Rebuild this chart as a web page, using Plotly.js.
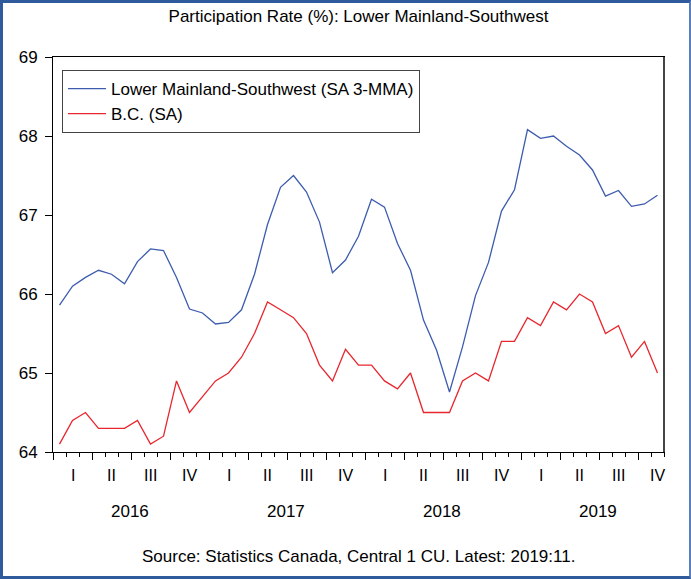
<!DOCTYPE html>
<html>
<head>
<meta charset="utf-8">
<script src="https://cdn.plot.ly/plotly-3.0.1.min.js"></script>
<style>
html,body{margin:0;padding:0;background:#fff;}
#wrap{position:relative;width:691px;height:579px;}
#chart{width:691px;height:579px;}
#frame{position:absolute;left:0;top:0;width:691px;height:579px;box-sizing:border-box;
 border-left:3px solid #2f5a9c;border-top:3px solid #2f5a9c;border-bottom:3px solid #2f5a9c;border-right:2px solid #5b7fba;pointer-events:none;}
</style>
</head>
<body>
<div id="wrap"><div id="chart"></div><div id="frame"></div></div>
<script>
// Monthly, Jan 2016 .. Nov 2019
const startYear = 2016;
const lowerMainland = [
 65.86, 66.10, 66.21, 66.30, 66.25, 66.13, 66.41, 66.57, 66.55, 66.21, 65.81, 65.76,
 65.62, 65.64, 65.80, 66.25, 66.88, 67.35, 67.50, 67.29, 66.91, 66.27, 66.43, 66.73,
 67.20, 67.10, 66.64, 66.30, 65.67, 65.29, 64.76, 65.33, 65.98, 66.40, 67.05, 67.32,
 68.08, 67.97, 68.00, 67.87, 67.76, 67.57, 67.24, 67.31, 67.11, 67.14, 67.25
];
const bc = [
 64.1, 64.4, 64.5, 64.3, 64.3, 64.3, 64.4, 64.1, 64.2, 64.9, 64.5, 64.7,
 64.9, 65.0, 65.2, 65.5, 65.9, 65.8, 65.7, 65.5, 65.1, 64.9, 65.3, 65.1,
 65.1, 64.9, 64.8, 65.0, 64.5, 64.5, 64.5, 64.9, 65.0, 64.9, 65.4, 65.4,
 65.7, 65.6, 65.9, 65.8, 66.0, 65.9, 65.5, 65.6, 65.2, 65.4, 65.0
];
const seriesNames = ["Lower Mainland-Southwest (SA 3-MMA)", "B.C. (SA)"];
const quarterLabels = ["I", "II", "III", "IV"];
const years = ["2016", "2017", "2018", "2019"];
const yTicks = [64, 65, 66, 67, 68, 69];
const titleText = "Participation Rate (%): Lower Mainland-Southwest";
const sourceText = "Source: Statistics Canada, Central 1 CU. Latest: 2019:11.";

const n = lowerMainland.length;
const idx = lowerMainland.map((_, i) => i);
const xMax = n - 0.5;
const FONT = 'Liberation Sans, Arial, sans-serif';

const annotations = [];
years.forEach((y, yi) => {
  quarterLabels.forEach((q, qi) => {
    const c = yi * 12 + qi * 3 + 1;
    if (c - 1 <= n - 1) {
      annotations.push({x: c, y: 0, xref: 'x', yref: 'paper', yanchor: 'middle', yshift: -23, text: q,
        showarrow: false, font: {family: FONT, size: 16, color: '#000'}});
    }
  });
  annotations.push({x: yi * 12 + 5.4, y: 0, xref: 'x', yref: 'paper', yanchor: 'middle', yshift: -59, text: y,
    showarrow: false, font: {family: FONT, size: 17, color: '#000'}});
});
annotations.push({x: 0.5, y: 0, xref: 'paper', yref: 'paper', yanchor: 'middle', yshift: -104, text: sourceText,
  showarrow: false, font: {family: FONT, size: 17, color: '#000'}});

const traces = [
  {x: idx, y: lowerMainland, name: seriesNames[0], type: 'scatter', mode: 'lines',
   line: {color: '#3d5cae', width: 1.3}},
  {x: idx, y: bc, name: seriesNames[1], type: 'scatter', mode: 'lines',
   line: {color: '#e8262e', width: 1.3}}
];

const layout = {
  width: 691, height: 579,
  margin: {l: 53, r: 27, t: 57, b: 127},
  paper_bgcolor: '#fff', plot_bgcolor: '#fff',
  font: {family: FONT, size: 17, color: '#000'},
  title: {text: titleText, x: 0.5, xref: 'paper', xanchor: 'center', y: 1, yanchor: 'top', pad: {t: 10},
    yref: 'container', font: {size: 17, color: '#000'}},
  showlegend: true,
  legend: {x: 0.0147, y: 0.967, xanchor: 'left', yanchor: 'top', bgcolor: '#fff',
    bordercolor: '#444', borderwidth: 1, font: {size: 17, color: '#000'}, tracegroupgap: 0, itemwidth: 38},
  xaxis: {range: [-0.5, xMax], tickmode: 'linear', tick0: -0.5, dtick: 3, ticks: 'outside',
    ticklen: 7, tickcolor: '#000', showticklabels: false, showgrid: false, zeroline: false,
    showline: true, linecolor: '#000', linewidth: 1, mirror: true,
    minor: {tickmode: 'linear', tick0: -0.5, dtick: 1, ticks: 'outside', ticklen: 4, tickcolor: '#000', showgrid: false}},
  yaxis: {range: [64, 69], tickvals: yTicks, ticktext: yTicks.map(String), ticks: 'outside',
    ticklen: 7, tickcolor: '#000', showgrid: false, zeroline: false, ticklabelstandoff: 4,
    showline: true, linecolor: '#000', linewidth: 1, mirror: true, tickfont: {size: 17}},
  shapes: [
    {type: 'line', xref: 'paper', yref: 'paper', x0: 1, x1: 1, y0: 0, y1: 1, line: {color: '#444', width: 2}}
  ],
  annotations: annotations
};

Plotly.newPlot('chart', traces, layout, {staticPlot: true, displayModeBar: false});
</script>
</body>
</html>
